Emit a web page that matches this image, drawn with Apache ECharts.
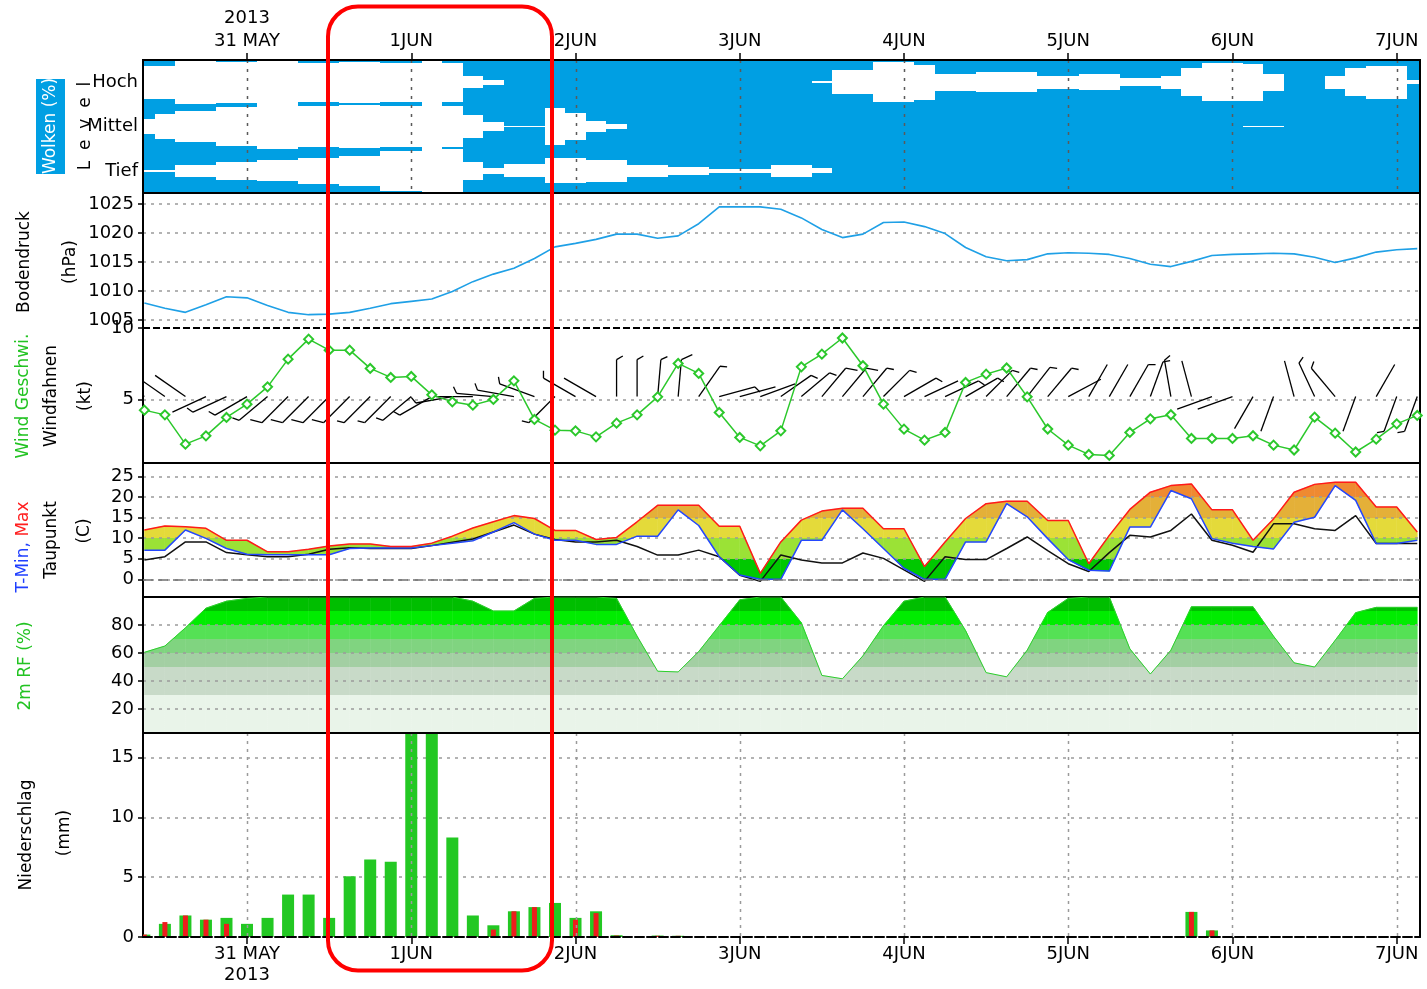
<!DOCTYPE html>
<html lang="de">
<head>
<meta charset="utf-8">
<title>Meteogramm 31 MAY – 7 JUN 2013</title>
<script src="https://cdn.jsdelivr.net/npm/echarts@6.0.0/dist/echarts.min.js"></script>
<style>
  html, body { margin: 0; padding: 0; background: #ffffff; }
  #chart { width: 1427px; height: 989px; }
</style>
</head>
<body>
<div id="chart"></div>
<script>
// ---- time base: hours after 31 MAY 2013 00:00, one step every 3 h ----
const hours = [-15,-12,-9,-6,-3,0,3,6,9,12,15,18,21,24,27,30,33,36,39,42,45,48,51,54,57,60,63,66,69,72,
  75,78,81,84,87,90,93,96,99,102,105,108,111,114,117,120,123,126,129,132,135,138,141,144,147,150,153,156,
  159,162,165,168,171];
const dayTicks = [0, 24, 48, 72, 96, 120, 144, 168];
const dayNames = ['31 MAY', '1JUN', '2JUN', '3JUN', '4JUN', '5JUN', '6JUN', '7JUN'];
const yearLabel = '2013';
const levelNames = ['Tief', 'Mittel', 'Hoch'];

// ---- cloud cover per level (%) ----
const cloudHigh = [25,25,0,0,8,8,0,0,12,12, 8,8,12,12,0,12,74,89,100,100,
  100,100,100,100,100,100,100,100,100,100, 100,100,100,96,47,47,10,10,21,62,
  62,55,55,55,70,70,64,64,83,83, 70,38,14,14,17,62,100,100,70,36, 25,25,92];
const cloudMid = [66,45,30,30,12,12,0,0,8,8, 5,5,8,8,0,8,48,81,96,96,
  17,40,77,90,100,100,100,100,100,100, 100,100,100,100,100,100,100,100,100,100,
  100,100,100,100,100,100,100,100,100,100, 100,100,100,100,96,96,100,100,100,100, 100,100,100];
const cloudLow = [94,94,74,74,59,59,53,53,40,40, 32,32,10,10,0,0,60,85,70,70,
  44,44,50,50,74,74,81,81,92,92, 92,74,74,89,100,100,100,100,100,100,
  100,100,100,100,100,100,100,100,100,100, 100,100,100,100,100,100,100,100,100,100, 100,100,100];

// ---- surface pressure (hPa) ----
const pressure = [1007.9,1007.0,1006.3,1007.6,1009.0,1008.8,1007.5,1006.3,1005.9,1006.0,
  1006.3,1007.0,1007.8,1008.2,1008.6,1009.9,1011.6,1012.9,1013.9,1015.6,
  1017.6,1018.2,1018.9,1019.8,1019.8,1019.1,1019.5,1021.6,1024.5,1024.5,
  1024.5,1024.1,1022.6,1020.6,1019.2,1019.8,1021.8,1021.9,1021.1,1019.9,
  1017.5,1015.9,1015.2,1015.4,1016.4,1016.6,1016.5,1016.3,1015.6,1014.6,
  1014.2,1015.1,1016.1,1016.3,1016.4,1016.5,1016.4,1015.8,1014.9,1015.7,
  1016.7,1017.1,1017.3];

// ---- wind: speed (kt) and direction the wind blows from (deg) ----
const windSpeed = [4.25,3.92,1.87,2.45,3.74,4.67,5.88,7.82,9.22,8.45,
  8.45,7.17,6.54,6.61,5.32,4.83,4.6,5.0,6.3,3.6,
  2.85,2.8,2.38,3.34,3.92,5.18,7.52,6.82,4.09,2.34,
  1.75,2.8,7.28,8.17,9.3,7.36,4.67,2.92,2.15,2.69,
  6.19,6.77,7.2,5.18,2.93,1.8,1.15,1.08,2.69,3.64,
  3.93,2.27,2.27,2.27,2.46,1.8,1.46,3.76,2.64,1.32,
  2.22,3.29,3.88];
const windDir = [305,305,305,245,245,240,230,225,225,225,
  225,225,225,230,240,260,270,275,280,290,
  225,300,300,0,0,5,5,35,75,75,
  70,55,50,40,40,40,45,60,65,65,
  60,45,40,38,40,62,30,30,30,20,
  350,345,250,250,210,200,345,335,320,200,
  30,200,200];

// ---- temperature (C) ----
const tMax = [12.0,13.0,12.8,12.4,9.5,9.5,6.7,6.7,7.3,8.1,
  8.6,8.6,8.0,8.0,8.8,10.5,12.5,14.0,15.5,14.8,
  11.9,11.9,9.7,10.2,14.0,18.0,18.0,18.0,12.9,12.9,
  1.45,9.1,14.4,16.6,17.3,17.3,12.3,12.3,3.1,9.1,
  14.8,18.4,19.0,19.0,14.3,14.3,3.8,10.7,17.0,21.2,
  22.8,23.2,16.9,16.9,9.5,14.7,21.2,23.1,23.6,23.6,
  17.6,17.6,11.5];
const tMin = [7.1,7.1,12.0,9.95,7.5,6.1,6.0,6.0,6.0,6.0,
  7.5,7.6,7.6,7.6,8.2,8.8,9.4,11.5,13.8,11.0,
  9.5,9.5,8.5,8.5,10.5,10.5,16.9,13.1,5.5,1.05,
  0,0,9.5,9.5,16.9,12.3,7.5,2.7,0,0,
  9.1,9.1,18.4,15.2,9.9,4.8,2.2,2.0,12.7,12.7,
  21.6,19.6,9.9,8.8,8.0,7.4,13.9,15.1,22.8,19.2,
  8.7,8.7,9.5];
const dewPoint = [4.7,5.5,9.1,9.1,6.5,6.0,5.5,5.5,6.1,7.3,
  7.7,7.5,7.5,7.5,8.2,9.0,9.8,11.5,13.2,11.0,
  9.7,9.1,9.1,9.5,8.0,5.9,5.9,7.1,5.5,1.0,
  -0.5,5.9,4.7,4.0,4.0,6.4,5.1,2.3,-0.5,5.5,
  4.8,4.8,7.5,10.3,7.0,3.8,1.9,6.5,10.7,10.3,
  11.9,15.9,9.5,8.3,6.6,13.5,13.5,12.3,11.9,15.5,
  8.7,8.7,8.7];

// ---- 2 m relative humidity (%) ----
const relHum = [60.5,65,78,92,97,99,100,100,100,100,
  100,100,100,100,100,100,97,90,90,99,
  100,100,100,99,72,47,46.5,61,79.5,98,
  100,100,81.6,44,41.6,58,79.5,97,100,100,
  76,46,43,62,89,99,100,100,63,45,
  62,93,93,93,93,72,53,50,69,88.8,
  92.6,92.6,92.6];

// ---- precipitation per 3 h (mm): total and convective part ----
const precipTotal = [0.2,1.1,1.8,1.45,1.6,1.1,1.6,3.55,3.55,1.6,
  5.08,6.48,6.29,21.0,19.6,8.33,1.8,0.98,2.15,2.5,
  2.85,1.6,2.15,0.15,0,0.12,0.1,0,0,0,
  0,0,0,0,0,0,0,0,0,0, 0,0,0,0,0,0,0,0,0,0,
  0,2.1,0.55,0,0,0,0,0,0,0, 0,0,0];
const precipConv = [0.2,1.25,1.8,1.45,1.1,0,0,0,0,0,
  0,0,0,0,0,0,0,0.62,2.15,2.5,
  0,1.45,2.0,0.12,0,0.1,0.1,0,0,0,
  0,0,0,0,0,0,0,0,0,0, 0,0,0,0,0,0,0,0,0,0,
  0,2.1,0.55,0,0,0,0,0,0,0, 0,0,0];

// ---- layout and styling ----
const FONT = "'DejaVu Sans', 'Liberation Sans', sans-serif";
const X_MIN = -15.2, X_MAX = 171.4;
const PANELS = [
  { top: 60,  height: 133, framed: true },   // clouds
  { top: 193, height: 135, framed: false },  // pressure
  { top: 328, height: 135, framed: false },  // wind
  { top: 463, height: 134, framed: true },   // temperature
  { top: 597, height: 136, framed: true },   // humidity
  { top: 733, height: 204, framed: false }   // precipitation
];
const GRID_LINE = { color: '#9a9a9a', width: 1.5, type: [3, 5] };
const CLOUD_BLUE = '#009fe3';
const BARB_LEVEL = 5.2;          // kt level of the barb stations
const STAFF = 37, FEATHER = 12;  // barb sizes in px
const TEMP_STEPS = [0, 5, 10, 15, 20, 25];
const TEMP_COLORS = ['#00c800', '#00c800', '#9be236', '#e4da3a', '#e4b038', '#ef8a31', '#ef6a2c'];
const RH_STEPS = [30, 50, 60, 70, 80, 90];
const RH_COLORS = ['#e9f4e9', '#c8dac8', '#a3cfa3', '#80d480', '#55e155', '#00ec00', '#00be00'];
const labelFont = { color: '#000', fontFamily: FONT, fontSize: 18 };

function dayIndex(v) { return dayTicks.indexOf(Math.round(v)); }

// horizontal colour bands as a global gradient with hard steps
function bandGradient(params, api, steps, colors) {
  const cs = params.coordSys;
  const top = cs.y, h = cs.height;
  const frac = v => Math.min(1, Math.max(0, (api.coord([0, v])[1] - top) / h));
  const n = steps.length;
  const stops = [{ offset: 0, color: colors[n] }];
  for (let k = n - 1; k >= 0; k--) {
    const o = frac(steps[k]);
    stops.push({ offset: o, color: colors[k + 1] }, { offset: o, color: colors[k] });
  }
  stops.push({ offset: 1, color: colors[0] });
  return new echarts.graphic.LinearGradient(0, top, 0, top + h, stops, true);
}

function valueAxis(gridIndex, min, max, splitNumber, showMin, showMax, z) {
  return {
    type: 'value', gridIndex, min, max, splitNumber, position: 'left', z,
    axisLine: { show: true, onZero: false, lineStyle: { color: '#000', width: 2 } },
    axisTick: { show: true, length: 5, lineStyle: { color: '#000', width: 1.5 } },
    axisLabel: Object.assign({ showMinLabel: showMin, showMaxLabel: showMax, margin: 9,
      formatter: v => String(Math.round(v)) }, labelFont),
    splitLine: { show: true, showMinLine: false, showMaxLine: false, lineStyle: GRID_LINE }
  };
}
function borderAxis(gridIndex) {
  return {
    type: 'value', gridIndex, position: 'right', min: 0, max: 1, z: 3,
    axisLine: { show: true, onZero: false, lineStyle: { color: '#000', width: 2 } },
    axisTick: { show: false }, axisLabel: { show: false }, splitLine: { show: false }
  };
}

function vText(x, y, text, fill) {
  return {
    type: 'text', x, y, rotation: Math.PI / 2, z: 10,
    style: { text, fill, font: '17px ' + FONT, align: 'center', verticalAlign: 'middle' }
  };
}

// wind barb: staff points to where the wind comes from, feathers at its far end
function renderBarb(params, api) {
  const i = api.value(2);
  const dir = windDir[i];
  if (dir == null) return null;
  const p = api.coord([api.value(0), BARB_LEVEL]);
  const r = dir * Math.PI / 180;
  const sx = Math.sin(r), sy = -Math.cos(r);
  const fx = -sy, fy = sx;
  const tx = p[0] + STAFF * sx, ty = p[1] + STAFF * sy;
  const style = { stroke: '#000', lineWidth: 1.3, fill: null };
  const children = [{ type: 'line', shape: { x1: p[0], y1: p[1], x2: tx, y2: ty }, style }];
  const knots = Math.round(windSpeed[i] / 5) * 5;
  const full = Math.floor(knots / 10), half = (knots % 10) >= 5 ? 1 : 0;
  let pos = 0;
  const feather = len => {
    const bx = tx - pos * sx, by = ty - pos * sy;
    children.push({ type: 'line', style,
      shape: { x1: bx, y1: by, x2: bx + len * (0.87 * fx + 0.5 * sx), y2: by + len * (0.87 * fy + 0.5 * sy) } });
    pos += 5;
  };
  for (let k = 0; k < full; k++) feather(FEATHER);
  if (half) feather(FEATHER * 0.6);
  return { type: 'group', children };
}

function dayLineItem(color, dash) {
  return (params, api) => {
    const cs = params.coordSys;
    const x = Math.round(api.coord([api.value(0), 0])[0]) + 0.5;
    if (x < cs.x || x > cs.x + cs.width) return null;
    return { type: 'line', shape: { x1: x, y1: cs.y, x2: x, y2: cs.y + cs.height },
      style: { stroke: color, lineWidth: 1.5, lineDash: dash } };
  };
}

function barItem(values, width, color) {
  return (params, api) => {
    const i = api.value(2);
    const v = values[i];
    if (!(v > 0)) return null;
    const base = api.coord([hours[i], 0]);
    const top = api.coord([hours[i], v]);
    return { type: 'rect', shape: { x: base[0] - width / 2, y: top[1], width, height: base[1] - top[1] },
      style: { fill: color } };
  };
}

const segments = hours.slice(0, -1).map((t, i) => [t, 0, i]);
const steps = hours.map((t, i) => [t, 0, i]);
const cloudCells = [];
[cloudLow, cloudMid, cloudHigh].forEach((arr, lvl) =>
  arr.forEach((c, i) => cloudCells.push([hours[i], lvl + 0.5, c])));

const option = {
  animation: false,
  backgroundColor: '#ffffff',
  grid: PANELS.map(p => ({
    left: 143, width: 1277, top: p.top, height: p.height,
    show: p.framed, backgroundColor: 'transparent',
    borderColor: '#000', borderWidth: 2, z: 3,
    outerBoundsMode: 'none', containLabel: false
  })),
  xAxis: PANELS.map((p, k) => ({
    type: 'value', gridIndex: k, min: X_MIN, max: X_MAX,
    show: k === 0 || k === 5,
    position: k === 0 ? 'top' : 'bottom',
    z: 3,
    axisLine: { show: k === 5, onZero: false, lineStyle: { color: '#000', width: 2, type: [9, 3] } },
    axisTick: { show: true, customValues: dayTicks, length: 7, inside: false,
      lineStyle: { color: '#000', width: 1.5 } },
    axisLabel: Object.assign({
      customValues: dayTicks, margin: 7, lineHeight: k === 0 ? 23 : 21,
      formatter: v => {
        const d = dayIndex(v);
        if (d < 0) return '';
        if (d === 0) return k === 0 ? yearLabel + '\n' + dayNames[0] : dayNames[0] + '\n' + yearLabel;
        return dayNames[d];
      }
    }, labelFont),
    splitLine: { show: false }
  })),
  yAxis: [
    {
      type: 'value', gridIndex: 0, min: 0, max: 3, position: 'left',
      axisLine: { show: false, onZero: false }, axisTick: { show: false },
      axisLabel: Object.assign({ customValues: [0.5, 1.5, 2.5], margin: 5,
        formatter: v => levelNames[Math.floor(v)] || '' }, labelFont),
      splitLine: { show: false }
    },
    valueAxis(1, 1003.6, 1026.9, 5, false, false, 0),
    valueAxis(2, 0.55, 10, 2, false, true, 0),
    valueAxis(3, -4.3, 28.3, 6, false, false, 3),
    valueAxis(4, 2.9, 100, 5, false, false, 3),
    valueAxis(5, 0, 17.07, 3, true, false, 1),
    borderAxis(1), borderAxis(2), borderAxis(5)
  ],
  series: [
    // clouds: blue sky-cover background, clear parts in white
    {
      type: 'custom', xAxisIndex: 0, yAxisIndex: 0, clip: true, silent: true,
      data: [[0, 0]],
      renderItem: params => {
        const cs = params.coordSys;
        return { type: 'rect', shape: { x: cs.x, y: cs.y, width: cs.width, height: cs.height },
          style: { fill: CLOUD_BLUE } };
      }
    },
    {
      type: 'custom', xAxisIndex: 0, yAxisIndex: 0, clip: true, silent: true,
      data: cloudCells,
      renderItem: (params, api) => {
        const t = api.value(0), mid = api.value(1), cover = api.value(2);
        const clear = 1 - cover / 100;
        if (clear <= 0) return null;
        const a = api.coord([t - 1.5, mid + clear / 2]);
        const b = api.coord([t + 1.5, mid - clear / 2]);
        const x1 = Math.round(a[0]), x2 = Math.round(b[0]);
        const y1 = Math.round(a[1]), y2 = Math.max(Math.round(b[1]), y1 + 1);
        return { type: 'rect', shape: { x: x1, y: y1, width: x2 - x1, height: y2 - y1 },
          style: { fill: '#ffffff' } };
      }
    },
    {
      type: 'custom', xAxisIndex: 0, yAxisIndex: 0, silent: true,
      data: dayTicks.map(h => [h, 0]),
      renderItem: dayLineItem('#5a5a5a', [3, 6])
    },
    // pressure
    {
      type: 'line', xAxisIndex: 1, yAxisIndex: 1, symbol: 'none', silent: true,
      data: hours.map((t, i) => [t, pressure[i]]),
      lineStyle: { color: '#1fa0e6', width: 1.6 }
    },
    // wind barbs and wind speed
    {
      type: 'custom', xAxisIndex: 2, yAxisIndex: 2, clip: true, silent: true,
      data: hours.map((t, i) => [t, windSpeed[i], i]),
      renderItem: renderBarb
    },
    {
      type: 'line', xAxisIndex: 2, yAxisIndex: 2, silent: true, clip: false,
      data: hours.map((t, i) => [t, windSpeed[i]]),
      symbol: 'emptyDiamond', symbolSize: 9,
      itemStyle: { color: '#2bc82b', borderColor: '#2bc82b', borderWidth: 1.3 },
      lineStyle: { color: '#2bc82b', width: 1.5 },
      markLine: { silent: true, symbol: ['none', 'none'], label: { show: false },
        lineStyle: { color: '#000', width: 2, type: [7, 3] }, data: [{ yAxis: 10 }] }
    },
    // temperature spread between minimum and maximum
    {
      type: 'custom', xAxisIndex: 3, yAxisIndex: 3, clip: true, silent: true,
      data: segments,
      renderItem: (params, api) => {
        const i = api.value(2);
        const pts = [
          api.coord([hours[i], tMax[i]]), api.coord([hours[i + 1], tMax[i + 1]]),
          api.coord([hours[i + 1], tMin[i + 1]]), api.coord([hours[i], tMin[i]])
        ];
        const fill = bandGradient(params, api, TEMP_STEPS, TEMP_COLORS);
        return { type: 'polygon', shape: { points: pts }, style: { fill, stroke: fill, lineWidth: 0.6 } };
      }
    },
    {
      type: 'line', xAxisIndex: 3, yAxisIndex: 3, symbol: 'none', silent: true, clip: false,
      data: hours.map((t, i) => [t, dewPoint[i]]),
      lineStyle: { color: '#111111', width: 1.5 },
      markLine: { silent: true, symbol: ['none', 'none'], label: { show: false },
        lineStyle: { color: '#707070', width: 1.5, type: [10, 5] }, data: [{ yAxis: 0 }] }
    },
    {
      type: 'line', xAxisIndex: 3, yAxisIndex: 3, symbol: 'none', silent: true,
      data: hours.map((t, i) => [t, tMin[i]]),
      lineStyle: { color: '#2447ff', width: 1.5 }
    },
    {
      type: 'line', xAxisIndex: 3, yAxisIndex: 3, symbol: 'none', silent: true,
      data: hours.map((t, i) => [t, tMax[i]]),
      lineStyle: { color: '#ff1a1a', width: 1.5 }
    },
    // relative humidity
    {
      type: 'custom', xAxisIndex: 4, yAxisIndex: 4, clip: true, silent: true,
      data: segments,
      renderItem: (params, api) => {
        const i = api.value(2);
        const pts = [
          api.coord([hours[i], relHum[i]]), api.coord([hours[i + 1], relHum[i + 1]]),
          api.coord([hours[i + 1], 0]), api.coord([hours[i], 0])
        ];
        const fill = bandGradient(params, api, RH_STEPS, RH_COLORS);
        return { type: 'polygon', shape: { points: pts }, style: { fill, stroke: fill, lineWidth: 0.6 } };
      }
    },
    {
      type: 'line', xAxisIndex: 4, yAxisIndex: 4, symbol: 'none', silent: true,
      data: hours.map((t, i) => [t, relHum[i]]),
      lineStyle: { color: '#2ccf2c', width: 1 }
    },
    // precipitation
    {
      type: 'custom', xAxisIndex: 5, yAxisIndex: 5, clip: true, silent: true,
      data: steps, renderItem: barItem(precipTotal, 12, '#23c823')
    },
    {
      type: 'custom', xAxisIndex: 5, yAxisIndex: 5, clip: true, silent: true,
      data: steps, renderItem: barItem(precipConv, 5, '#ee1c1c')
    },
    {
      type: 'custom', xAxisIndex: 5, yAxisIndex: 5, silent: true,
      data: dayTicks.map(h => [h, 0]),
      renderItem: dayLineItem('#9a9a9a', [3, 5])
    }
  ],
  graphic: [
    { type: 'rect', shape: { x: 36, y: 79, width: 29, height: 95 }, style: { fill: CLOUD_BLUE }, z: 9 },
    vText(50.5, 126, 'Wolken (%)', '#ffffff'),
    vText(86, 126, 'L  e  v  e  l', '#000000'),
    vText(25, 262, 'Bodendruck', '#000000'),
    vText(71, 262, '(hPa)', '#000000'),
    vText(24, 396, 'Wind Geschwi.', '#22c322'),
    vText(52, 396, 'Windfahnen', '#000000'),
    vText(86, 396, '(kt)', '#000000'),
    {
      type: 'text', x: 24, y: 547, rotation: Math.PI / 2, z: 10,
      style: {
        text: '{b|T-Min,} {r|Max}', font: '17px ' + FONT, align: 'center', verticalAlign: 'middle',
        rich: { b: { fill: '#1f3fff', font: '17px ' + FONT }, r: { fill: '#ff1f1f', font: '17px ' + FONT } }
      }
    },
    vText(52, 540, 'Taupunkt', '#000000'),
    vText(85, 531, '(C)', '#000000'),
    vText(26, 666, '2m RF (%)', '#22c322'),
    vText(27, 835, 'Niederschlag', '#000000'),
    vText(65, 833, '(mm)', '#000000'),
    { type: 'rect', shape: { x: 328, y: 6.5, width: 224, height: 964, r: 30 },
      style: { fill: null, stroke: '#ff0000', lineWidth: 4 }, z: 100 }
  ]
};

const chart = echarts.init(document.getElementById('chart'), null, { renderer: 'canvas' });
chart.setOption(option);
</script>
</body>
</html>
